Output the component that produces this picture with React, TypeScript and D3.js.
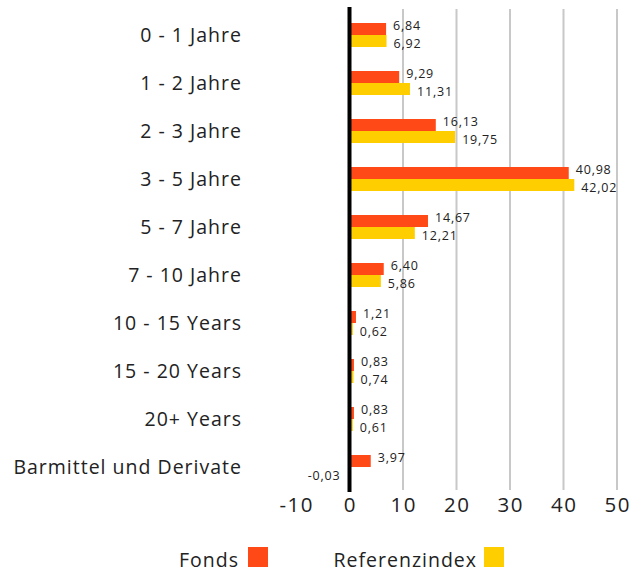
import React from "react";
import { scaleBand, scaleLinear } from "d3";

const categories = [
  "0 - 1 Jahre",
  "1 - 2 Jahre",
  "2 - 3 Jahre",
  "3 - 5 Jahre",
  "5 - 7 Jahre",
  "7 - 10 Jahre",
  "10 - 15 Years",
  "15 - 20 Years",
  "20+ Years",
  "Barmittel und Derivate",
];
const fonds = [6.84, 9.29, 16.13, 40.98, 14.67, 6.4, 1.21, 0.83, 0.83, 3.97];
const referenz = [6.92, 11.31, 19.75, 42.02, 12.21, 5.86, 0.62, 0.74, 0.61, -0.03];
const ticks = [-10, 0, 10, 20, 30, 40, 50];

const ORANGE = "#FF4A17";
const YELLOW = "#FFCE00";
const FONT = "'Open Sans', sans-serif";

const fmt = (v: number) => v.toFixed(2).replace(".", ",");

const App = () => {
  const width = 641;
  const height = 574;

  // x, y scales
  const x = scaleLinear().domain([-10, 50]).range([296, 617]);
  const y = scaleBand().domain(categories).range([11, 491]);
  const barH = 12;

  return (
    <svg
      width={width}
      height={height}
      style={{ position: "absolute", left: 0, top: 0, fontFamily: FONT }}
    >
      {/* grid lines */}
      {ticks
        .filter((t) => t > 0)
        .map((t) => (
          <line
            key={t}
            x1={x(t)}
            x2={x(t)}
            y1={9}
            y2={490}
            stroke="#c8c8c8"
            strokeWidth={2}
          />
        ))}

      {categories.map((c, i) => {
        const cy = (y(c) || 0) + y.bandwidth() / 2;
        const f = fonds[i];
        const r = referenz[i];
        return (
          <g key={c}>
            <text
              x={242}
              y={cy}
              dy="0.35em"
              textAnchor="end"
              fontSize={19.5}
              letterSpacing={1}
              fill="#222"
            >
              {c}
            </text>
            <rect
              x={Math.min(x(0), x(f))}
              y={cy - barH}
              width={Math.abs(x(f) - x(0))}
              height={barH}
              fill={ORANGE}
            />
            <rect
              x={Math.min(x(0), x(r))}
              y={cy}
              width={Math.abs(x(r) - x(0))}
              height={barH}
              fill={YELLOW}
            />
            <text
              x={f >= 0 ? x(f) + 7 : x(0) - 9}
              y={cy - 9}
              dy="0.35em"
              textAnchor={f >= 0 ? "start" : "end"}
              fontSize={12.5}
              letterSpacing={0.8}
              fill="#222"
            >
              {fmt(f)}
            </text>
            <text
              x={r >= 0 ? x(r) + 7 : x(0) - 9}
              y={cy + 9}
              dy="0.35em"
              textAnchor={r >= 0 ? "start" : "end"}
              fontSize={12.5}
              letterSpacing={0.8}
              fill="#222"
            >
              {fmt(r)}
            </text>
          </g>
        );
      })}

      {/* zero line */}
      <line x1={x(0)} x2={x(0)} y1={7} y2={492} stroke="#000" strokeWidth={4} />

      {/* x axis labels */}
      {ticks.map((t) => (
        <text
          key={t}
          x={x(t) + 0.75}
          y={512}
          textAnchor="middle"
          fontSize={20.5}
          letterSpacing={1.5}
          fill="#222"
        >
          {t}
        </text>
      ))}

      {/* legend */}
      <text x={239} y={567} textAnchor="end" fontSize={19.5} letterSpacing={1} fill="#222">
        Fonds
      </text>
      <rect x={248} y={547} width={20} height={20} fill={ORANGE} />
      <text x={477} y={567} textAnchor="end" fontSize={19.5} letterSpacing={1} fill="#222">
        Referenzindex
      </text>
      <rect x={484} y={547} width={20} height={20} fill={YELLOW} />
    </svg>
  );
};

export default App;
